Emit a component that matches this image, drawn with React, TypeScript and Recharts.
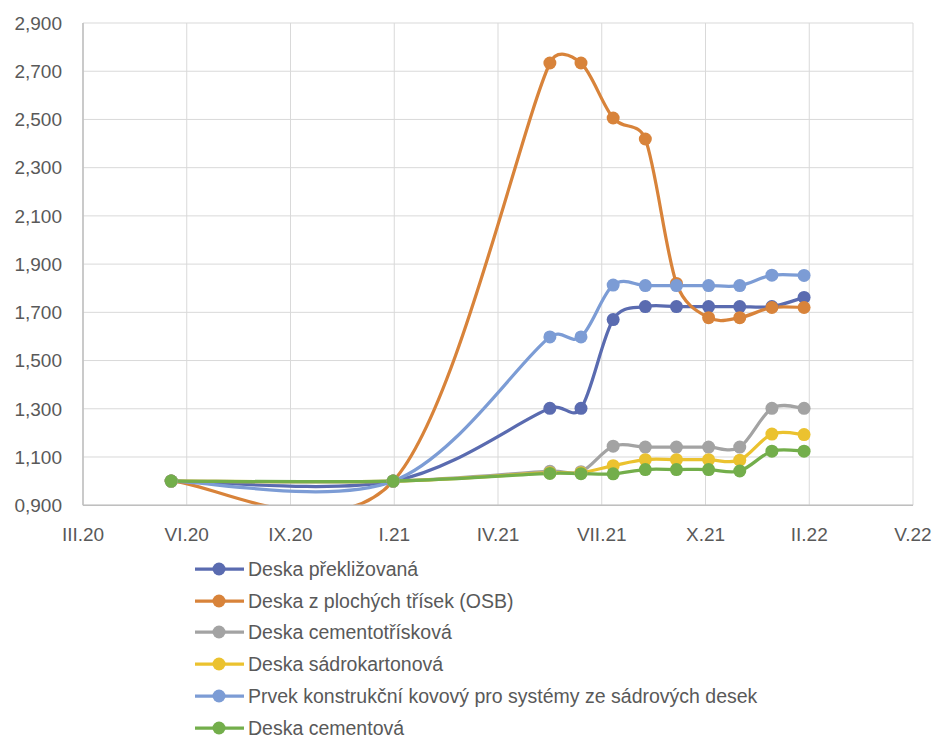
import { LineChart, Line, XAxis, YAxis, CartesianGrid, Legend } from "recharts";

// ─── Data ─────────────────────────────────────────────────────────────────────

const DATES = [
  "2020-06-01", "2021-01-01", "2021-06-01", "2021-07-01", "2021-08-01", "2021-09-01",
  "2021-10-01", "2021-11-01", "2021-12-01", "2022-01-01", "2022-02-01",
];

const PREKLIZOVANA = [1.0, 1.0, 1.302, 1.302, 1.67, 1.724, 1.724, 1.724, 1.724, 1.724, 1.762];
const OSB = [1.0, 1.0, 2.734, 2.734, 2.506, 2.419, 1.82, 1.678, 1.678, 1.72, 1.72];
const CEMENTOTRISKOVA = [1.0, 1.0, 1.041, 1.039, 1.145, 1.141, 1.141, 1.141, 1.141, 1.302, 1.302];
const SADROKARTONOVA = [1.0, 1.0, 1.035, 1.035, 1.064, 1.089, 1.089, 1.089, 1.087, 1.195, 1.193];
const PRVEK_KOVOVY = [1.0, 1.0, 1.598, 1.598, 1.813, 1.811, 1.811, 1.811, 1.811, 1.854, 1.853];
const CEMENTOVA = [1.0, 1.0, 1.032, 1.031, 1.03, 1.048, 1.048, 1.048, 1.042, 1.124, 1.124];

const X_TICK_LABELS = ["III.20", "VI.20", "IX.20", "I.21", "IV.21", "VII.21", "X.21", "II.22", "V.22"];
const Y_TICKS = [0.9, 1.1, 1.3, 1.5, 1.7, 1.9, 2.1, 2.3, 2.5, 2.7, 2.9];

// Excel date axis: starts 8.3.2020, major unit 100 days
const AXIS_START = Date.UTC(2020, 2, 8);
const DAY_MS = 86400000;
const TICK_STEP = 100;
const X_TICKS = X_TICK_LABELS.map((_, i) => i * TICK_STEP);

const SERIES = [
  { key: "preklizovana", name: "Deska překližovaná", color: "#5A6BB0", values: PREKLIZOVANA },
  { key: "osb", name: "Deska z plochých třísek (OSB)", color: "#D8833A", values: OSB },
  { key: "cementotriskova", name: "Deska cementotřísková", color: "#A3A3A3", values: CEMENTOTRISKOVA },
  { key: "sadrokartonova", name: "Deska sádrokartonová", color: "#EBC22F", values: SADROKARTONOVA },
  { key: "prvek", name: "Prvek konstrukční kovový pro systémy ze sádrových desek", color: "#7C9CD5", values: PRVEK_KOVOVY },
  { key: "cementova", name: "Deska cementová", color: "#73AE4B", values: CEMENTOVA },
];

const data = DATES.map((d, i) => {
  const row: Record<string, number> = { day: (Date.parse(d) - AXIS_START) / DAY_MS };
  SERIES.forEach(s => { row[s.key] = s.values[i]; });
  return row;
});

const TEXT = "#595959";
const FONT = "'Liberation Sans', Arial, sans-serif";

// ─── Excel-like smoothed line (Catmull-Rom bezier, handles clamped) ──────────

function clampVec(v: number[], max: number) {
  const len = Math.hypot(v[0], v[1]);
  if (len > max && len > 0) {
    v[0] *= max / len;
    v[1] *= max / len;
  }
  return v;
}

function excelSmooth(context: any) {
  let pts: number[][] = [];
  return {
    areaStart() {},
    areaEnd() {},
    lineStart() { pts = []; },
    point(x: number, y: number) { pts.push([+x, +y]); },
    lineEnd() {
      if (!pts.length) return;
      context.moveTo(pts[0][0], pts[0][1]);
      for (let i = 0; i < pts.length - 1; i++) {
        const p0 = pts[Math.max(i - 1, 0)];
        const p1 = pts[i];
        const p2 = pts[i + 1];
        const p3 = pts[Math.min(i + 2, pts.length - 1)];
        const seg = Math.hypot(p2[0] - p1[0], p2[1] - p1[1]);
        const a = clampVec([(p2[0] - p0[0]) / 6, (p2[1] - p0[1]) / 6], seg * 0.5);
        const b = clampVec([(p3[0] - p1[0]) / 6, (p3[1] - p1[1]) / 6], seg * 0.5);
        context.bezierCurveTo(p1[0] + a[0], p1[1] + a[1], p2[0] - b[0], p2[1] - b[1], p2[0], p2[1]);
      }
    },
  };
}

// ─── Legend ───────────────────────────────────────────────────────────────────

function LegendList() {
  return (
    <div style={{ display: "flex", flexDirection: "column", fontFamily: FONT }}>
      {SERIES.map(s => (
        <div key={s.key} style={{ display: "flex", alignItems: "center", height: 31.8 }}>
          <svg width={52} height={16} style={{ display: "block" }}>
            <line x1={1} x2={50} y1={8} y2={8} stroke={s.color} strokeWidth={3.25} />
            <circle cx={25} cy={8} r={6.5} fill={s.color} />
          </svg>
          <span style={{ marginLeft: 2, fontSize: 19.5, lineHeight: "20px", color: TEXT, whiteSpace: "nowrap" }}>{s.name}</span>
        </div>
      ))}
    </div>
  );
}

// ─── Chart ────────────────────────────────────────────────────────────────────

export default function App() {
  const tickStyle = { fill: TEXT, fontSize: 19, fontFamily: FONT };
  return (
    <div style={{ position: "absolute", left: 0, top: 0, width: 938, height: 738, background: "#fff", fontFamily: FONT }}>
      <LineChart width={938} height={738} data={data} margin={{ top: 23, right: 25, bottom: 0, left: 0 }}>
        <CartesianGrid stroke="#D9D9D9" strokeWidth={1} />
        <XAxis
          dataKey="day"
          type="number"
          domain={[0, 800]}
          ticks={X_TICKS}
          interval={0}
          tickFormatter={(v: number) => X_TICK_LABELS[Math.round(v / TICK_STEP)]}
          tick={tickStyle}
          tickLine={false}
          tickSize={0}
          tickMargin={22}
          height={42}
          axisLine={{ stroke: "#BFBFBF", strokeWidth: 1.5 }}
        />
        <YAxis
          type="number"
          domain={[0.9, 2.9]}
          ticks={Y_TICKS}
          interval={0}
          allowDataOverflow
          tickFormatter={(v: number) => v.toFixed(3).replace(".", ",")}
          tick={tickStyle}
          tickLine={false}
          tickSize={0}
          tickMargin={21}
          width={83}
          axisLine={{ stroke: "#BFBFBF", strokeWidth: 1.5 }}
        />
        <Legend
          layout="horizontal"
          verticalAlign="bottom"
          align="left"
          content={() => <LegendList />}
          wrapperStyle={{ left: 194, top: 553, width: "auto" }}
        />
        {SERIES.map(s => (
          <Line
            key={s.key}
            dataKey={s.key}
            name={s.name}
            type={excelSmooth as any}
            stroke={s.color}
            strokeWidth={3.25}
            dot={{ r: 6.5, fill: s.color, stroke: s.color, strokeWidth: 0 }}
            activeDot={false}
            isAnimationActive={false}
          />
        ))}
      </LineChart>
    </div>
  );
}
